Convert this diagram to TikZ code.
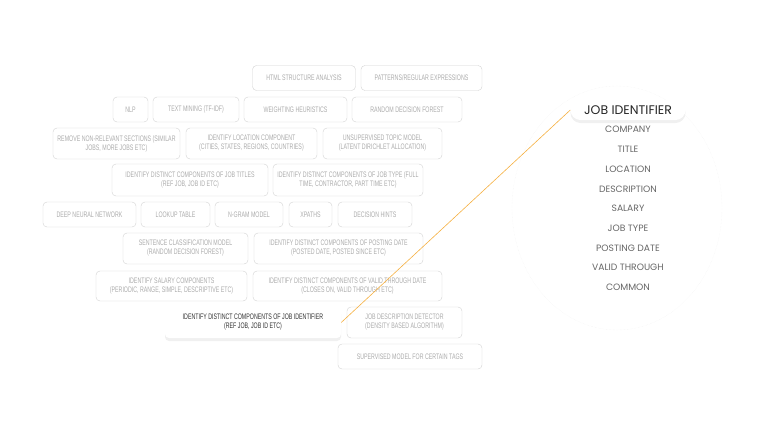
\documentclass[tikz,border=0pt]{standalone}
\usepackage{fontspec}
\setmainfont{Liberation Sans}
\newfontfamily\narrowfont[FakeStretch=0.66]{Liberation Sans}
\newfontfamily\listfont{Poppins}
\usetikzlibrary{shadows}
\definecolor{boxline}{HTML}{D2D2D2}
\definecolor{boxtext}{HTML}{ABABAB}
\definecolor{listtext}{HTML}{666666}
\definecolor{linkline}{HTML}{F5B041}

\begin{document}
\begin{tikzpicture}[x=1pt, y=-1pt]
\tikzset{tag/.style = {draw=boxline, rounded corners=4pt, text=boxtext, font=\narrowfont\fontsize{8}{9}\selectfont, align=center, inner sep=0pt, minimum height=25pt}}
    \tikzset{active/.style = {tag, draw=none, fill=white, text=black!80, drop shadow={opacity=0.12, shadow xshift=0pt, shadow yshift=-3pt}}}
    \tikzset{field/.style = {text=listtext, font=\listfont\fontsize{9.2}{10}\selectfont}}
\useasboundingbox (0,0) rectangle (768,432);

% faint ring behind the field list
\draw[gray!10, densely dotted] (617,208) ellipse (105 and 122);

% methods
\node[tag, minimum width=103pt] (html) at (304,78){HTML STRUCTURE ANALYSIS};
\node[tag, minimum width=121pt] (regex) at (421.5,78){PATTERNS/REGULAR EXPRESSIONS};
\node[tag, minimum width=35pt] (nlp) at (130.5,109.5){NLP};
\node[tag, minimum width=86pt] (tfidf) at (196,109.5){TEXT MINING (TF-IDF)};
\node[tag, minimum width=103pt] (weight) at (295.5,109.5){WEIGHTING HEURISTICS};
\node[tag, minimum width=110pt] (forest) at (407,109.5){RANDOM DECISION FOREST};
\node[tag, minimum width=127pt, minimum height=31pt] (remove) at (116.5,143.5){REMOVE NON-RELEVANT SECTIONS (SIMILAR\\JOBS, MORE JOBS ETC)};
\node[tag, minimum width=131pt, minimum height=31pt] (loc) at (251.5,143.5){IDENTIFY LOCATION COMPONENT\\(CITIES, STATES, REGIONS, COUNTRIES)};
\node[tag, minimum width=119pt, minimum height=31pt] (topic) at (382.5,143.5){UNSUPERVISED TOPIC MODEL\\(LATENT DIRICHLET ALLOCATION)};
\node[tag, minimum width=156pt, minimum height=32pt] (title) at (190,180){IDENTIFY DISTINCT COMPONENTS OF JOB TITLES\\(REF JOB, JOB ID ETC)};
\node[tag, minimum width=150pt, minimum height=32pt] (type) at (348,180){IDENTIFY DISTINCT COMPONENTS OF JOB TYPE (FULL\\TIME, CONTRACTOR, PART TIME ETC)};
\node[tag, minimum width=93pt] (dnn) at (89.5,214.5){DEEP NEURAL NETWORK};
\node[tag, minimum width=69pt] (lookup) at (175.5,214.5){LOOKUP TABLE};
\node[tag, minimum width=68pt] (ngram) at (249,214.5){N-GRAM MODEL};
\node[tag, minimum width=43pt] (xpath) at (310.5,214.5){XPATHS};
\node[tag, minimum width=74pt] (hints) at (375,214.5){DECISION HINTS};
\node[tag, minimum width=125pt, minimum height=31pt] (sentence) at (185.5,248.5){SENTENCE CLASSIFICATION MODEL\\(RANDOM DECISION FOREST)};
\node[tag, minimum width=169pt, minimum height=31pt] (posted) at (338.5,248.5){IDENTIFY DISTINCT COMPONENTS OF POSTING DATE\\(POSTED DATE, POSTED SINCE ETC)};
\node[tag, minimum width=151pt, minimum height=30pt] (salary) at (171.5,286){IDENTIFY SALARY COMPONENTS\\(PERIODIC, RANGE, SIMPLE, DESCRIPTIVE ETC)};
\node[tag, minimum width=189pt, minimum height=30pt] (valid) at (347.5,286){IDENTIFY DISTINCT COMPONENTS OF VALID THROUGH DATE\\(CLOSES ON, VALID THROUGH ETC)};
\node[active, minimum width=176pt, minimum height=31pt] (jobid) at (253,322.5){IDENTIFY DISTINCT COMPONENTS OF JOB IDENTIFIER\\(REF JOB, JOB ID ETC)};
\node[tag, minimum width=115pt, minimum height=31pt] (detect) at (404.5,322.5){JOB DESCRIPTION DETECTOR\\(DENSITY BASED ALGORITHM)};
\node[tag, minimum width=144pt] (supervised) at (410,356.5){SUPERVISED MODEL FOR CERTAIN TAGS};

% fields
\node[active, rounded corners=10pt, minimum width=115pt, minimum height=20pt, text=black!85, font=\listfont\fontsize{12.5}{13}\selectfont] (pill) at (628,110){JOB IDENTIFIER};
\foreach \name [count=\i] in {COMPANY, TITLE, LOCATION, DESCRIPTION, SALARY, JOB TYPE, POSTING DATE, VALID THROUGH, COMMON}
    \node[field] (field\i) at (628,{110+19.7*\i}){\name};

% link
\draw[linkline, line width=0.6pt] (jobid.east) -- (pill.west);
\end{tikzpicture}
\end{document}
